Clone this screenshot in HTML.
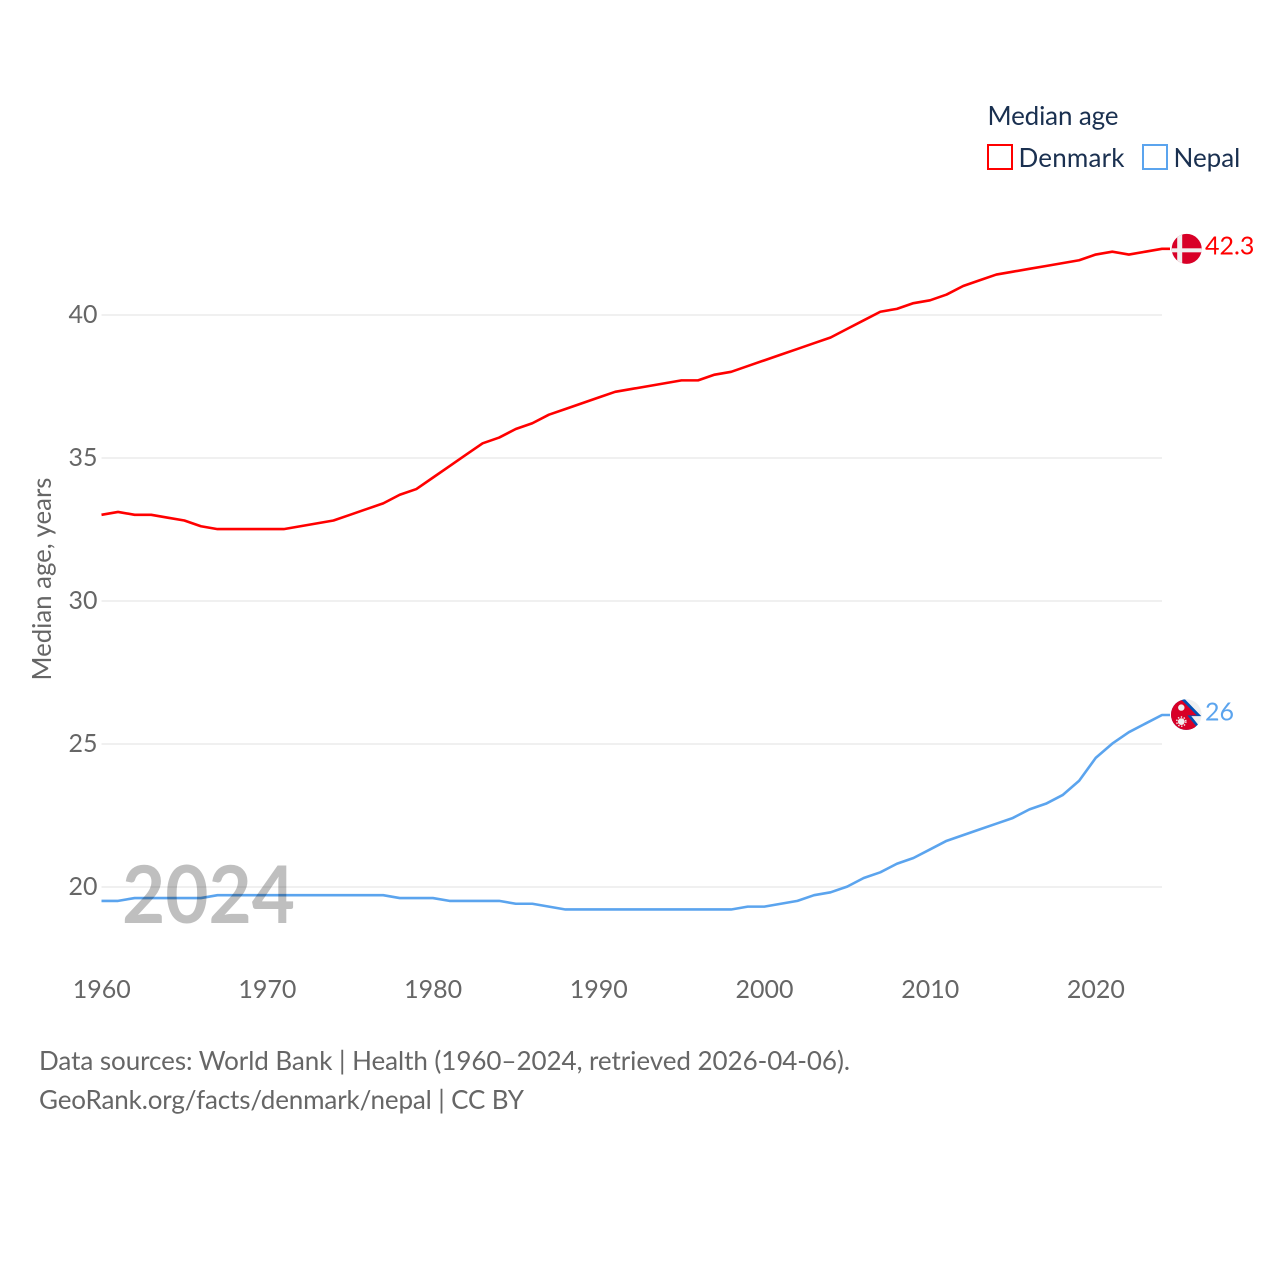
<!DOCTYPE html>
<html lang="en">
<head>
<meta charset="utf-8">
<title>Median age: Denmark and Nepal</title>
<style>
html,body{margin:0;padding:0;background:#fff;width:1280px;height:1280px;overflow:hidden}
svg{display:block}
text{font-family:"Lato","Carlito","Liberation Sans",sans-serif}
</style>
</head>
<body>
<svg id="chart" xmlns="http://www.w3.org/2000/svg" width="1280" height="1280" viewBox="0 0 1280 1280">
  <g id="grid"></g>
  <g id="y-ticks"></g>
  <g id="x-ticks"></g>
  <text transform="translate(51,579) rotate(-90)" text-anchor="middle" font-size="25.8" fill="#666">Median age, years</text>
  <g id="series"></g>
  <text x="122" y="923" font-size="80" font-weight="700" fill="#000" fill-opacity="0.25" textLength="173" lengthAdjust="spacingAndGlyphs">2024</text>
  <g id="end-markers"></g>
  <g>
    <text x="987.5" y="125" font-size="26" fill="#1a3050" textLength="131" lengthAdjust="spacing">Median age</text>
    <rect x="988" y="145" width="24" height="24" fill="none" stroke="#ff0000" stroke-width="2"/>
    <text x="1018.5" y="167" font-size="26" fill="#1a3050" textLength="106" lengthAdjust="spacing">Denmark</text>
    <rect x="1143" y="145" width="24" height="24" fill="none" stroke="#5ba4ee" stroke-width="2"/>
    <text x="1173.5" y="167" font-size="26" fill="#1a3050">Nepal</text>
  </g>
  <g>
    <text x="39" y="1070" font-size="26" fill="#666" textLength="811" lengthAdjust="spacing">Data sources: World Bank | Health (1960–2024, retrieved 2026-04-06).</text>
    <text x="39" y="1109" font-size="26" fill="#666" textLength="485" lengthAdjust="spacing">GeoRank.org/facts/denmark/nepal | CC BY</text>
  </g>
</svg>
<script>
const startYear = 1960;
const yTickValues = [20, 25, 30, 35, 40];
const xTickValues = [1960, 1970, 1980, 1990, 2000, 2010, 2020];
const denmarkValues = [33.0,33.1,33.0,33.0,32.9,32.8,32.6,32.5,32.5,32.5,32.5,32.5,32.6,32.7,32.8,33.0,33.2,33.4,33.7,33.9,34.3,34.7,35.1,35.5,35.7,36.0,36.2,36.5,36.7,36.9,37.1,37.3,37.4,37.5,37.6,37.7,37.7,37.9,38.0,38.2,38.4,38.6,38.8,39.0,39.2,39.5,39.8,40.1,40.2,40.4,40.5,40.7,41.0,41.2,41.4,41.5,41.6,41.7,41.8,41.9,42.1,42.2,42.1,42.2,42.3];
const nepalValues = [19.5,19.5,19.6,19.6,19.6,19.6,19.6,19.7,19.7,19.7,19.7,19.7,19.7,19.7,19.7,19.7,19.7,19.7,19.6,19.6,19.6,19.5,19.5,19.5,19.5,19.4,19.4,19.3,19.2,19.2,19.2,19.2,19.2,19.2,19.2,19.2,19.2,19.2,19.2,19.3,19.3,19.4,19.5,19.7,19.8,20.0,20.3,20.5,20.8,21.0,21.3,21.6,21.8,22.0,22.2,22.4,22.7,22.9,23.2,23.7,24.5,25.0,25.4,25.7,26.0];

const NS = 'http://www.w3.org/2000/svg';
const xScale = function (year) { return 101.5 + (year - 1960) * (1162 - 101.5) / 64; };
const yScale = function (v) { return 887 - (v - 20) * 28.6; };

function make(tag, attrs, parent, text) {
  const el = document.createElementNS(NS, tag);
  Object.keys(attrs).forEach(function (k) { el.setAttribute(k, attrs[k]); });
  if (text !== undefined) el.textContent = text;
  parent.appendChild(el);
  return el;
}

const grid = document.getElementById('grid');
const yTicks = document.getElementById('y-ticks');
const xTicks = document.getElementById('x-ticks');
const seriesGroup = document.getElementById('series');
const markers = document.getElementById('end-markers');

yTickValues.forEach(function (v) {
  const line = make('line', {x1: 101.5, x2: 1162, y1: yScale(v), y2: yScale(v), stroke: '#f0f0f0', 'stroke-width': 2}, grid);
  
  
  const label = make('text', {x: 97.5, y: yScale(v) + 8, 'text-anchor': 'end', 'font-size': 25, fill: '#666'}, yTicks, String(v));
  
  
});

xTickValues.forEach(function (y) {
  const label = make('text', {x: xScale(y) + 0.2, y: 998, 'text-anchor': 'middle', 'font-size': 25, fill: '#666'}, xTicks, String(y));
  
  
});

function seriesPath(values) {
  return values.map(function (v, i) {
    return (i ? 'L' : 'M') + xScale(startYear + i).toFixed(2) + ' ' + (yScale(v) - 0.4).toFixed(2);
  }).join(' ');
}

function lastOf(values) { return values[values.length - 1]; }

const denmarkEndY = yScale(lastOf(denmarkValues));
const nepalEndY = yScale(lastOf(nepalValues));

const denmarkLine = make('path', {d: seriesPath(denmarkValues) + ' H1170', fill: 'none', stroke: '#ff0000', 'stroke-width': 2.6, 'stroke-linejoin': 'round'}, seriesGroup);



const nepalLine = make('path', {d: seriesPath(nepalValues) + ' H1170', fill: 'none', stroke: '#5ba4ee', 'stroke-width': 2.6, 'stroke-linejoin': 'round'}, seriesGroup);



/* Denmark flag marker */
const dk = make('g', {transform: 'translate(1186.7,' + (denmarkEndY - 0.3) + ')'}, markers);


make('circle', {r: 15, cx: 0, cy: 0, fill: '#d80027'}, dk);
const dkClip = make('clipPath', {id: 'dk-clip'}, dk);
make('circle', {r: 15, cx: 0, cy: 0}, dkClip);
const dkInner = make('g', {'clip-path': 'url(#dk-clip)'}, dk);
make('rect', {x: -9.5, y: -15, width: 5, height: 30, fill: '#f0f0f0'}, dkInner);
make('rect', {x: -15, y: -0.6, width: 30, height: 4, fill: '#f0f0f0'}, dkInner);

const dkValue = make('text', {x: 1205, y: denmarkEndY + 5.5, 'font-size': 25, fill: '#ff0000'}, markers, String(lastOf(denmarkValues)));



/* Nepal flag marker */
const np = make('g', {transform: 'translate(1186.3,' + (nepalEndY - 0.8) + ')'}, markers);


make('circle', {r: 15.3, cx: 0, cy: 0, fill: '#f0f0f0'}, np);
const clip = make('clipPath', {id: 'np-clip'}, np);
make('circle', {r: 15.3, cx: 0, cy: 0}, clip);
const npInner = make('g', {'clip-path': 'url(#np-clip)'}, np);
make('polygon', {points: '-16,-17 -3,-17 15,1.5 5,1.5 15,14 15,17 -16,17', fill: '#0052b4'}, npInner);
make('polygon', {points: '-16,-17 -4,-14 10.5,0.8 1,0.8 11,13 9,17 -16,17', fill: '#d80027'}, npInner);
make('circle', {cx: -5, cy: -7, r: 3.2, fill: '#f0f0f0'}, npInner);
make('circle', {cx: -5, cy: 7, r: 3.4, fill: '#f0f0f0'}, npInner);
make('circle', {cx: -5, cy: 7, r: 4.6, fill: 'none', stroke: '#f0f0f0', 'stroke-width': 1.4, 'stroke-dasharray': '1.4 1.6'}, npInner);

const npValue = make('text', {x: 1205, y: nepalEndY + 5.3, 'font-size': 25, fill: '#5ba4ee'}, markers, String(lastOf(nepalValues)));


</script>
</body>
</html>
